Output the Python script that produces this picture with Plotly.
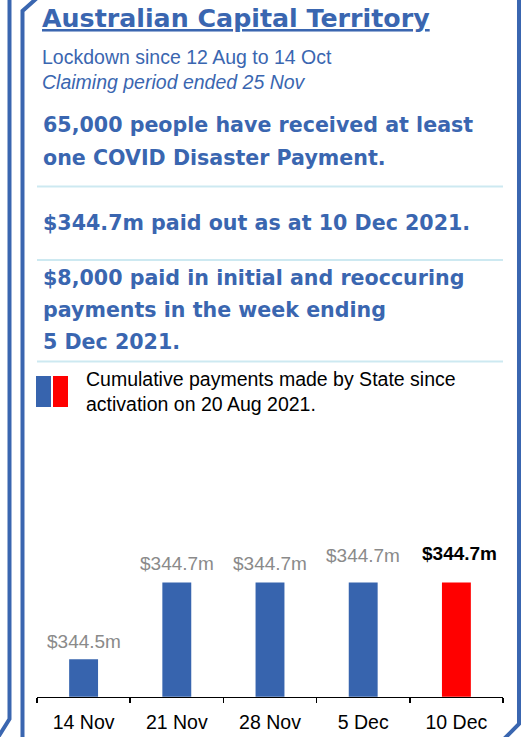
import plotly.graph_objects as go

# ---- data ----
categories = ["14 Nov", "21 Nov", "28 Nov", "5 Dec", "10 Dec"]
values_m = [344.5, 344.7, 344.7, 344.7, 344.7]
bar_labels = ["$344.5m", "$344.7m", "$344.7m", "$344.7m", "$344.7m"]

title_text = "Australian Capital Territory"
sub_lines = ["Lockdown since 12 Aug to 14 Oct", "Claiming period ended 25 Nov"]
para1 = ["65,000 people have received at least", "one COVID Disaster Payment."]
para2 = ["$344.7m paid out as at 10 Dec 2021."]
para3 = ["$8,000 paid in initial and reoccuring", "payments in the week ending", "5 Dec 2021."]
legend_lines = ["Cumulative payments made by State since", "activation on 20 Aug 2021."]

# ---- style ----
W, H = 525, 737
BLUE = "#3A66B0"
BAR_BLUE = "#3764AE"
RED = "#FF0000"
SEP = "#CDE9F1"
GRAY = "#8A8A8A"
SANS = "Liberation Sans, Arial, sans-serif"
BOLDF = "DejaVu Sans, Verdana, sans-serif"


def px(x):
    return x / W


def py(y):
    return 1 - y / H


fig = go.Figure()

bar_colors = [BAR_BLUE] * (len(categories) - 1) + [RED]
fig.add_trace(go.Bar(
    x=categories, y=values_m, marker=dict(color=bar_colors, line=dict(width=0)),
    hoverinfo="skip", showlegend=False,
))

annotations = []

# bar value labels
label_shift = [18, 19, 19, 27, 29]
for i, (c, v, t) in enumerate(zip(categories, values_m, bar_labels)):
    last = i == len(categories) - 1
    annotations.append(dict(
        x=c, y=v, xref="x", yref="y", text=("<b>%s</b>" % t) if last else t,
        showarrow=False, yanchor="middle", yshift=label_shift[i],
        xshift=3 if last else 0,
        font=dict(family=SANS, size=19, color="#000000" if last else GRAY),
    ))


def add_text(text, x, y, size, family, color=BLUE, bold=False, italic=False, underline=False):
    t = text
    if underline:
        t = "<u>%s</u>" % t
    if bold:
        t = "<b>%s</b>" % t
    if italic:
        t = "<i>%s</i>" % t
    annotations.append(dict(
        x=px(x), y=py(y), xref="paper", yref="paper", text=t, showarrow=False,
        xanchor="left", yanchor="middle", font=dict(family=family, size=size, color=color),
    ))


add_text(title_text, 40, 19, 25.3, BOLDF, bold=True, underline=True)
add_text(sub_lines[0], 40, 57, 19.5, SANS)
add_text(sub_lines[1], 40, 82, 19.5, SANS, italic=True)
for i, l in enumerate(para1):
    add_text(l, 41, 125 + 33.5 * i, 20.6, BOLDF, bold=True)
add_text(para2[0], 41, 223, 20.6, BOLDF, bold=True)
for i, l in enumerate(para3):
    add_text(l, 41, 278 + 32 * i, 20.6, BOLDF, bold=True)
for i, l in enumerate(legend_lines):
    add_text(l, 84, 379 + 24.5 * i, 19.5, SANS, color="#000000")

shapes = []


def path(points, color=BLUE, width=4):
    d = "M " + " L ".join("%f,%f" % (px(a), py(b)) for a, b in points)
    shapes.append(dict(type="path", path=d, xref="paper", yref="paper",
                       line=dict(color=color, width=width)))


# frame lines
path([(9.5, -3), (9.5, 719), (-3, 739)])
path([(37, -2), (22.5, 11), (22.5, 740)])
path([(519, -3), (519, 724), (504, 739)])

# separators
for yy in (186.5, 260, 361.5):
    shapes.append(dict(type="line", xref="paper", yref="paper", x0=px(37), x1=px(503),
                       y0=py(yy), y1=py(yy), line=dict(color=SEP, width=2)))

# legend swatches
shapes.append(dict(type="rect", xref="paper", yref="paper", x0=px(36), x1=px(51),
                   y0=py(407), y1=py(376), fillcolor=BAR_BLUE, line=dict(width=0)))
shapes.append(dict(type="rect", xref="paper", yref="paper", x0=px(53), x1=px(68),
                   y0=py(407), y1=py(376), fillcolor=RED, line=dict(width=0)))

fig.update_layout(
    width=W, height=H, margin=dict(l=0, r=0, t=0, b=0),
    paper_bgcolor="white", plot_bgcolor="white",
    bargap=0.69, annotations=annotations, shapes=shapes, showlegend=False,
    xaxis=dict(
        domain=[px(37), px(503)], showline=True, linecolor="black", linewidth=1.5,
        ticks="outside", tickson="boundaries", ticklen=5, tickcolor="black", tickwidth=1.5,
        showgrid=False, zeroline=False, ticklabelstandoff=7, fixedrange=True,
        tickfont=dict(family=SANS, size=19.5, color="#000000"),
    ),
    yaxis=dict(
        domain=[py(696.7), py(540)], range=[344.402, 344.811], visible=False,
        showgrid=False, zeroline=False, fixedrange=True,
    ),
)

fig.write_html(
    "out.html",
    config={"displayModeBar": False, "staticPlot": True},
    post_script="document.body.style.margin='0';document.body.style.overflow='hidden';",
)
